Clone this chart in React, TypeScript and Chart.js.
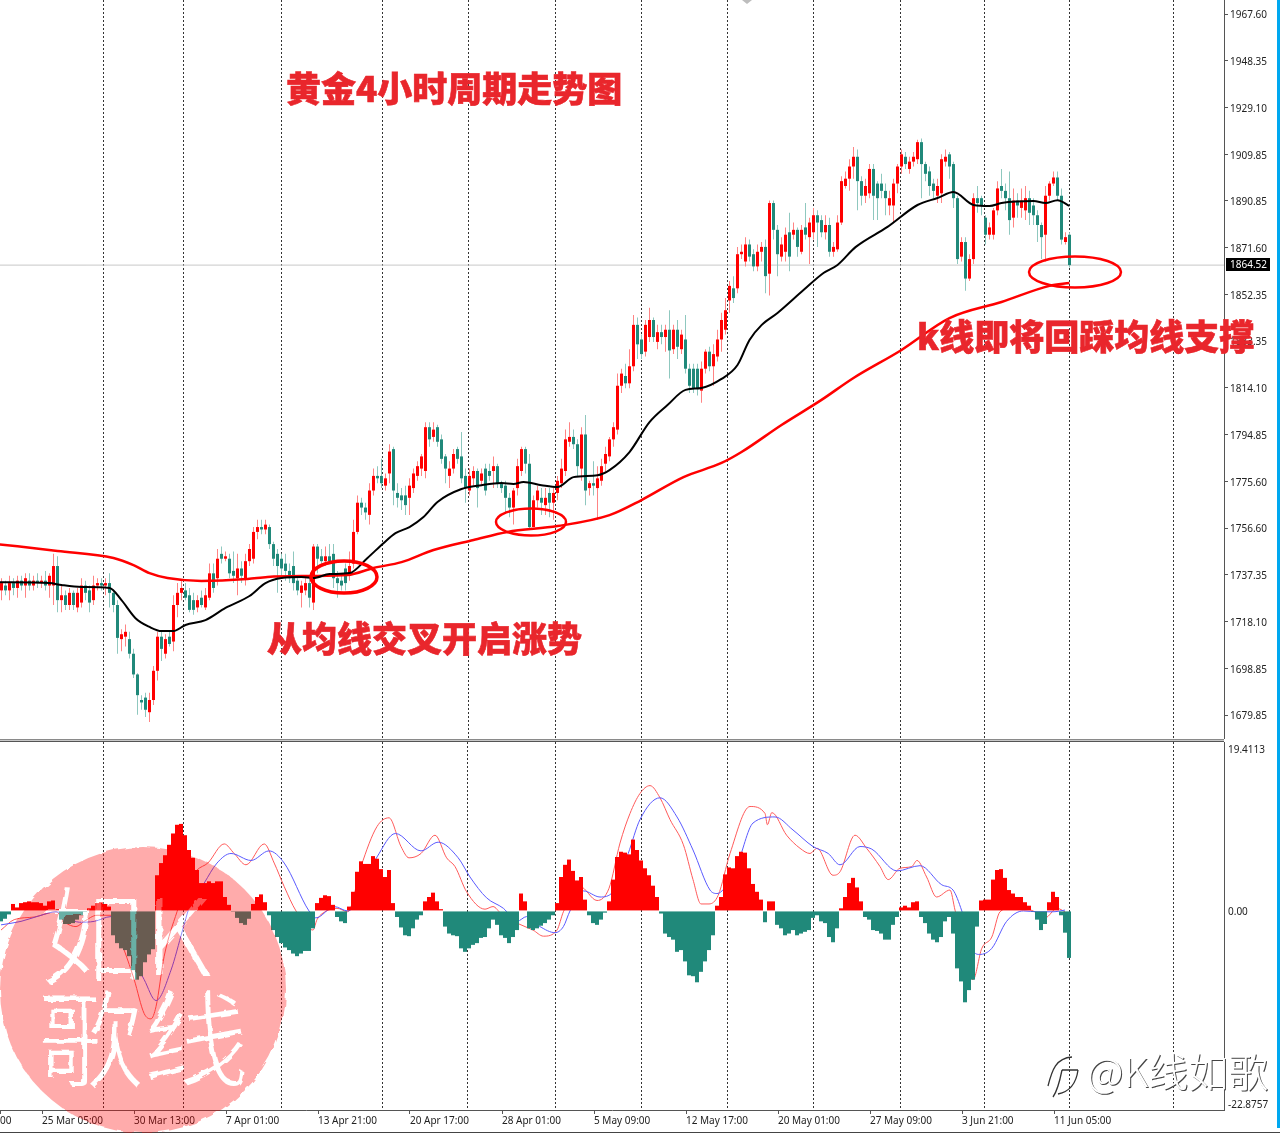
import React, { useEffect, useRef } from "react";
import { Chart, registerables } from "chart.js";

Chart.register(...registerables);
Chart.defaults.font.family = "'Noto Sans', sans-serif";
Chart.defaults.font.size = 10;

const opens = [
  1731,1733,1731,1734,1732,1735,1733,1735,1733,1735,
  1734,1735,1733,1733,1741,1727,1729,1725,1730,1724,
  1726,1733,1731,1727,1733,1734,1733,1734,1730,1725,
  1711,1712,1711,1705,1696.5,1686,1687,1681,1686,1698,
  1712,1705,1712,1710,1725,1730,1731,1729,1727,1724,
  1728,1724,1728,1738,1736,1746,1744,1744,1739,1736,
  1740,1736,1743,1744,1755,1757,1756,1757,1750,1746,
  1744,1742,1739,1741,1735,1730,1731,1734,1726,1749,
  1745,1743,1745,1746,1736,1735,1740,1737,1742,1755,
  1767,1765,1762,1772,1778,1778,1774,1779,1789,1771,
  1770,1770,1769,1773,1778,1781,1780,1798,1794,1798,
  1793,1786,1778,1781,1789,1786,1778,1772,1777,1780,
  1776,1781,1780,1780,1782,1775,1774,1769,1765,1773,
  1780,1789,1783,1757,1768,1769,1766,1771,1767,1771,
  1775,1780,1792,1794,1791,1781,1795,1773,1775,1773,
  1776,1783,1786,1793,1797,1815,1819,1816,1823,1840,
  1834,1829,1835,1842,1833,1837,1835,1838,1830,1838,
  1830,1834,1822,1822,1822,1813,1822,1829,1823,1827,
  1834,1838,1850,1855,1855,1869,1866,1873,1869,1864,
  1870,1872,1861,1890,1879,1868,1870,1878,1877,1879,
  1870,1880,1876,1878,1885,1883,1878,1881,1870,1871,
  1882,1897,1900,1905,1909,1899,1893,1894,1904,1898,
  1898,1895,1889,1889,1898,1905,1909,1904,1907,1908,
  1915,1906,1903,1898,1893,1894,1907,1910,1906,1892,
  1868,1874,1859,1867,1892,1892,1884,1877,1877,1887,
  1897,1895,1892,1884,1891,1888,1887,1892,1889,1885,
  1881,1877,1893,1898,1900.5,1893,1874,1877,
];

const closes = [
  1734,1731,1734,1732,1735,1733,1736,1733,1735,1734,
  1735,1733,1737,1741,1727,1729,1725,1730,1725,1730,
  1733,1730,1726,1733,1734,1733,1734,1730,1725,1711.5,
  1713,1714,1705,1696.5,1688,1685,1682,1686,1698,1712,
  1707,1711,1709,1725,1730,1732,1728,1723,1723,1727,
  1725,1729,1738,1732,1744,1744,1745,1738,1737,1740,
  1737,1743,1748,1755,1757,1756,1758,1750,1744,1741,
  1740,1739,1736,1734,1731,1733,1734,1728,1749,1744,
  1743,1745,1743,1736,1734,1733,1734,1741,1755,1767,
  1765,1763,1772,1778,1777,1775,1777,1788,1772,1769,
  1768,1766,1774,1779,1782,1786,1798,1793,1797,1792,
  1785,1781,1781,1787,1785,1777,1773,1778,1780,1773,
  1779,1772,1778,1782,1775,1773,1769,1765,1772,1782,
  1789,1783,1757,1768,1772,1767,1769,1767,1771,1776,
  1781,1793,1794,1791,1782,1795,1772,1775,1774,1777,
  1782,1787,1793,1798,1815,1820,1816,1823,1840,1832,
  1828,1840,1842,1835,1837,1835,1838,1829.5,1838,1831,
  1836,1822,1815,1814,1814,1822,1829,1823,1828,1834,
  1842,1846,1856,1851,1869,1870,1873,1868,1864,1870,
  1872,1860,1890,1879,1869,1873,1877,1868,1879,1872,
  1879,1877,1882,1885,1882,1878,1881,1870,1872,1882,
  1899,1900,1905,1909,1899,1893,1897,1904,1893,1892,
  1895,1892,1892,1898,1905,1910,1906,1907,1909,1915,
  1906,1902,1897,1895,1897,1908,1909,1905,1892,1867,
  1874,1859,1867,1892,1890,1889,1877,1880,1887,1896,
  1895,1892,1883,1891,1889,1891,1892,1886,1885,1881,
  1876,1893,1898,1900.5,1893,1875,1876,1864.52,
];

const highs = [
  1736,1735,1737,1736,1737,1737,1738,1738,1737,1738,
  1737,1739,1738,1746,1745,1733,1731,1732,1731,1732,
  1736,1735,1733,1737,1736,1736,1736,1738,1731,1727,
  1715,1717,1714,1707,1697,1688,1689,1689,1700,1714,
  1714,1713,1714,1729,1734,1735,1734,1732,1730,1729,
  1731,1732,1742,1742,1748,1749,1747,1746,1747,1746,
  1743,1746,1750,1757,1760,1760,1760,1758,1751,1748,
  1746,1746,1742,1747,1736,1735,1736,1736,1750,1750,
  1748,1749,1750,1750,1739,1738,1742,1747,1760,1770,
  1769,1767,1775,1781,1782,1785,1779,1791,1790,1775,
  1773,1774,1777,1781,1784,1787,1800,1800,1800,1799,
  1795,1787,1784,1789,1790,1796,1781,1781,1782,1781,
  1781,1783,1783,1786,1783,1776,1776,1771,1773,1785,
  1790,1790,1787,1770,1774,1773,1773,1773,1773,1778,
  1785,1797,1800,1797,1793,1798,1803,1776,1784,1782,
  1785,1790,1794,1800,1820,1822,1824,1830,1844,1843,
  1836,1842,1847,1843,1840,1840,1840,1846,1840,1842,
  1838,1844,1824,1824,1824,1825,1830,1831,1832,1838,
  1845,1851,1858,1860,1872,1873,1876,1875,1871,1873,
  1874,1875,1891,1891,1881,1876,1880,1886,1882,1880,
  1881,1890,1884,1888,1887,1885,1885,1884,1874,1885,
  1901,1903,1908,1913,1912,1901,1900,1906,1906,1899,
  1902,1898,1895,1900,1906,1912,1911,1909,1911,1916,
  1916.5,1907,1905,1900,1900,1910,1912,1911,1907,1893,
  1876,1876,1869,1894,1897,1893,1885,1882,1888,1899,
  1904,1898,1903,1896,1894,1896,1897,1895,1892,1887,
  1882,1897,1899,1903,1903,1896,1878,1878,
];

const lows = [
  1727,1729,1727,1729,1728,1731,1728,1731,1731,1732,
  1732,1731,1728,1725,1722,1722,1723,1723,1723,1722,
  1724,1727,1722,1725,1731,1731,1729,1724,1722,1705,
  1706,1708,1703,1695,1680,1682,1679,1677,1684,1694,
  1702,1703,1708,1706,1720,1727,1727,1722,1721,1722,
  1724,1723,1727,1730,1733,1742,1743,1736,1734,1729,
  1734,1733,1741,1742,1752,1754,1754,1748,1741,1730,
  1737,1735,1734,1731,1729,1724,1729,1724,1723,1738,
  1741,1741,1742,1732,1728,1731,1731,1735,1740,1754,
  1762,1760,1758,1770,1775,1773,1772,1775,1766,1765,
  1764,1762,1762,1771,1776,1778,1777,1790,1792,1790,
  1783,1775,1773,1779,1783,1775,1767,1770,1774,1765,
  1774,1770,1776,1773,1773,1771,1763,1761,1758,1770,
  1778,1779,1756,1757,1765,1762,1762,1761,1760,1768,
  1773,1778,1790,1789,1778,1776,1766,1770,1770,1760,
  1774,1779,1784,1790,1795,1812,1814,1814,1821,1826,
  1826,1827,1833,1833,1830,1832,1829,1818,1828,1826,
  1828,1820,1812,1812,1811,1808,1820,1821,1815,1825,
  1829,1836,1845,1849,1853,1867,1864,1866,1862,1862,
  1866,1853,1852,1875,1860,1866,1866,1862,1875,1868,
  1869,1875,1865,1875,1872,1876,1875,1868,1868,1870,
  1881,1896,1895,1900,1887,1889,1890,1892,1883,1883,
  1892,1885,1885,1882,1894,1902,1904,1902,1905,1906,
  1892,1899,1893,1892,1890,1890,1905,1900,1888,1865,
  1866,1854,1858,1865,1886,1885,1873,1875,1875,1885,
  1892,1887,1877,1880,1884,1884,1883,1881,1881,1874,
  1867,1866,1891,1897,1891,1873,1873,1863.5,
];

const blackMaBars = [-1,12,15,20,27,30,33.5,37,40,43,46,51,56,62,66,70,75,78,82,87,91.5,95.5,98.5,102,105.5,109,115,120,125,128,130.5,135,139,143,149,152,157,162,166.5,171,175,180,184,187,190,194,200.5,205.5,209,213.5,221.5,229,234,238,243,247,250,258,261,264,267];
const blackMaValues = [1734.4,1734.0,1733.2,1732.4,1732.0,1727.0,1719.6,1716.0,1714.3,1714.3,1716.8,1718.8,1723.8,1728.7,1734.0,1736.1,1736.5,1736.1,1737.7,1738.1,1744.3,1750.4,1754.5,1757.0,1761.1,1767.3,1772.6,1774.2,1775.1,1774.7,1775.5,1774.2,1773.4,1777.5,1778.3,1780.4,1787.8,1800.1,1807.1,1813.3,1814.1,1817.8,1823.5,1833.8,1839.9,1844.9,1854.3,1861.3,1864.6,1871.9,1880.2,1889.2,1892.1,1894.5,1889.2,1888.8,1890.0,1890.8,1890.0,1891.2,1888.8];

const redMaBars = [-1,14,28,33,37,41.5,50,61.5,66.5,77,86.5,93,100,108,118,126.5,139,152,160,170.5,180,185,195,205,213,225,237,250,262,267];
const redMaValues = [1750.0,1747.2,1744.3,1741.4,1738.1,1736.1,1734.9,1735.7,1736.5,1736.9,1737.3,1740.2,1742.6,1747.6,1751.7,1755.0,1757.4,1761.9,1768.1,1777.5,1783.3,1787.8,1798.9,1809.2,1818.2,1829.7,1842.8,1849.4,1856.0,1857.2];

const histogram = [
  -1.2,-0.9,-0.4,0.8,0.4,0.9,1.0,1.1,1.0,1.0,
  0.9,0.6,1.1,1.2,0.2,-1.0,-1.5,-1.5,-1.4,-1.0,
  -0.5,-0.1,0.3,0.6,0.9,1.0,0.8,0.5,-2.8,-3.7,
  -4.3,-4.5,-5.2,-6.8,-7.9,-7.5,-5.9,-5.0,-4.4,4.1,
  5.5,6.4,7.6,8.9,9.9,10.0,8.7,7.0,6.1,4.7,
  3.2,3.2,3.4,3.2,3.4,3.4,1.6,0.7,-0.1,-0.8,
  -1.4,-1.6,-0.9,0.8,1.6,1.9,1.0,-0.5,-2.2,-3.0,
  -3.7,-4.2,-4.5,-4.9,-5.2,-4.9,-4.6,-4.6,-2.0,0.9,
  1.5,1.8,1.7,0.7,-0.7,-1.2,-1.4,0.5,2.2,4.5,
  5.7,5.4,5.4,6.3,6.0,4.8,3.9,4.7,0.9,-0.7,
  -1.9,-2.8,-2.9,-2.0,-1.0,-0.5,1.1,1.6,2.1,1.1,
  0.2,-1.8,-2.6,-2.8,-2.9,-4.3,-4.7,-4.3,-3.9,-3.7,
  -3.1,-3.0,-2.0,-1.0,-1.6,-2.8,-3.1,-3.7,-3.0,-2.2,
  2.0,1.1,-2.0,-2.2,-2.0,-1.7,-1.4,-1.0,-0.5,0.9,
  3.9,5.3,5.9,4.6,3.5,3.9,1.3,-0.5,-1.4,-1.6,
  -1.0,-0.2,1.1,3.6,6.2,6.8,6.7,6.5,8.2,7.0,
  5.8,4.9,4.1,2.9,1.6,-0.3,-2.6,-3.0,-3.3,-4.7,
  -4.5,-5.8,-7.4,-7.5,-8.2,-7.0,-5.8,-4.5,-2.8,0.6,
  1.6,4.2,5.0,4.9,6.3,6.8,6.7,4.9,3.1,2.2,
  1.3,-1.3,1.1,1.1,-1.6,-2.0,-2.8,-2.6,-2.2,-2.8,
  -2.6,-2.4,-2.2,-0.8,-0.5,-1.2,-1.4,-3.0,-3.6,-2.0,
  0.3,1.6,3.2,3.8,2.7,1.1,-0.7,-1.0,-2.2,-2.3,
  -2.6,-3.3,-3.3,-1.6,-0.7,0.4,0.6,0.4,1.0,1.1,
  -0.7,-1.4,-2.6,-3.3,-3.6,-3.0,-1.2,-0.7,-2.6,-6.6,
  -8.1,-10.5,-9.1,-7.9,-1.8,1.2,1.3,1.3,3.6,4.7,
  4.8,3.8,2.4,2.0,1.6,1.6,1.0,0.6,-0.1,-1.0,
  -2.2,-1.5,1.0,2.2,1.6,-0.5,-2.5,-5.4,
];

const macdBars = [0,3.3,8.3,13.75,16,18.75,20.8,24,27.5,30.8,33.3,35.8,37.5,38.75,40.8,44,46.7,49,51.7,55.8,58.3,61.25,65.8,68.3,70.8,73.75,78,79,81,84,86.7,90,94,97,100,102,105,108.5,111.4,113.5,116.4,121,123,125,129,133,135.6,139,140.6,144.75,149,152,154.75,157.25,159.75,162.25,164.75,167.25,170.6,173,175,177,179.3,182.25,187.25,191,191.6,192.7,196.4,199.75,202.25,204,208,209.75,213.5,216.4,219.75,221.8,224.75,227.7,229,231.4,233.9,237.25,238.5,243,245.2,247.7,249.75,254,258,261,264,266];
const macdValues = [-2.2,-1.0,-0.7,-0.1,-1.3,-1.8,-1.2,-0.5,-0.5,-4.5,-7.9,-11.8,-12.4,-11.0,-5.2,-0.1,3.2,4.7,5.5,7.7,6.6,5.3,7.7,5.5,2.8,0,-2.2,-1.0,-0.1,0.3,-0.1,5.1,9.7,10.7,7.4,6.1,6.6,8.7,6.1,5.1,2.2,0.2,0.5,-0.3,-1.4,-2.2,-2.9,-2.2,-0.1,2.8,1.2,2.6,7.8,11.2,13.5,14.4,13.0,10.5,7.6,3.6,0.8,0.8,1.8,6.6,12.0,11.2,9.9,11.3,8.7,7.2,6.6,7.2,4.1,4.5,8.7,7.2,5.1,3.6,4.9,5.1,5.8,3.9,1.6,2.4,0.1,-7.9,-4.3,-3.0,-0.1,0.5,0,-0.8,0.3,-0.1];

const signalBars = [0,5,10,13.75,19.6,23.3,27.5,32,35.8,38.75,42.5,45.4,47,50.8,54,57.5,62.5,67,70.8,77,78.75,83.3,86.7,94,98.6,105,109.3,114.3,117.25,121.4,125.6,129,131.4,134.75,138.5,140.6,142.25,145.6,149.75,153,156.8,159.75,164.75,169,173,177.25,179,184,188,193.5,198,203,206.8,209.75,214.75,217.7,224,229.75,235.2,238,240.2,243,244.6,247.7,251.4,255.6,259,263,266];
const signalValues = [-1.6,-1.2,-0.5,-0.1,-1.3,-1.2,-0.65,-4.5,-7.9,-10.3,-6.8,-2.2,0.3,3.2,5.5,6.6,5.8,6.9,5.5,0,-0.8,0.5,0,6.2,8.9,6.9,7.9,6.1,3.9,1.5,0.3,-1.2,-0.65,-1.8,-2.5,-1.8,0,2.3,1.6,2.2,6.6,10.5,13.0,10.8,7.0,2.4,2.0,5.3,10.1,10.8,9.3,7.4,6.6,5.3,7.4,7.1,4.6,5.2,3.0,2.4,0,-4.5,-5.0,-4.3,-1.2,0,-0.1,-0.1,0.1];

const priceTicks = [1967.6,1948.35,1929.1,1909.85,1890.85,1871.6,1852.35,1833.35,1814.1,1794.85,1775.6,1756.6,1737.35,1718.1,1698.85,1679.85];
const lastPrice = 1864.52;
const macdTickPlaces = [18.6, 0, -22.2];
const macdTickLabels = ["19.4113", "0.00", "-22.8757"];
const timeTickBars = [-0.25,10.25,33.25,56.25,79.25,102.25,125.25,148.25,171.25,194.25,217.25,240.25,263.25];
const timeTickLabels = ["00","25 Mar 05:00","30 Mar 13:00","7 Apr 01:00","13 Apr 21:00","20 Apr 17:00","28 Apr 01:00","5 May 09:00","12 May 17:00","20 May 01:00","27 May 09:00","3 Jun 21:00","11 Jun 05:00"];
const periodSeparators = [25.5,45.5,70,95.25,116.75,138.5,160,181.5,203,224.75,245.75,267,293];

const RED = "#ff0000";
const TEAL = "#20897a";
const PALE_RED = "#ff8484";
const PALE_TEAL = "#8fc8bf";
const AXIS = "#555555";
const ANNOTATION = "#e9262c";
const CJK = "'Noto Sans CJK SC', sans-serif";

const separatorPlugin = {
  id: "separators",
  beforeDatasetsDraw(chart: any) {
    const { ctx, chartArea, scales } = chart;
    ctx.save();
    ctx.strokeStyle = "#333333";
    ctx.lineWidth = 1;
    ctx.setLineDash([2, 2]);
    for (const bar of periodSeparators) {
      const px = Math.floor(scales.x.getPixelForValue(bar)) + 0.5;
      ctx.beginPath();
      ctx.moveTo(px, chartArea.top);
      ctx.lineTo(px, chartArea.bottom);
      ctx.stroke();
    }
    ctx.restore();
  },
};

const lastPricePlugin = {
  id: "lastPrice",
  afterDraw(chart: any) {
    const { ctx, scales } = chart;
    const y = scales.y.getPixelForValue(lastPrice);
    ctx.save();
    ctx.fillStyle = "#000000";
    ctx.fillRect(1226, Math.round(y) - 7, 44, 13);
    ctx.fillStyle = "#ffffff";
    ctx.font = "10px 'Noto Sans', sans-serif";
    ctx.textAlign = "left";
    ctx.textBaseline = "middle";
    ctx.fillText(lastPrice.toFixed(2), 1230, Math.round(y));
    ctx.restore();
  },
};

const fixY = (s: any) => {
  s.width = 56;
  s.paddingTop = 0;
  s.paddingBottom = 0;
};
const fixX = (s: any) => {
  s.height = 23;
  s.paddingLeft = 0;
  s.paddingRight = 0;
};

const points = (bars: number[], values: number[]) => bars.map((x, i) => ({ x, y: values[i] }));

const isUp = (i: number) => closes[i] >= opens[i];

const basePlugins = { legend: { display: false }, tooltip: { enabled: false } };

export default function App() {
  const priceRef = useRef<HTMLCanvasElement | null>(null);
  const macdRef = useRef<HTMLCanvasElement | null>(null);

  useEffect(() => {
    const priceChart = new Chart(priceRef.current as any, {
      type: "bar",
      data: {
        datasets: [
          {
            type: "line",
            data: [{ x: -0.375, y: lastPrice }, { x: 305.625, y: lastPrice }],
            borderColor: "#c8c8c8",
            borderWidth: 1,
            pointRadius: 0,
            order: 5,
          },
          {
            data: opens.map((_, i) => ({ x: i, y: [lows[i], highs[i]] })),
            backgroundColor: opens.map((_, i) => (isUp(i) ? PALE_RED : PALE_TEAL)),
            barThickness: 1,
            inflateAmount: 0,
            grouped: false,
            order: 3,
          },
          {
            data: opens.map((o, i) => ({ x: i, y: [o, closes[i]] })),
            backgroundColor: opens.map((_, i) => (isUp(i) ? RED : TEAL)),
            barThickness: 3,
            inflateAmount: 0,
            grouped: false,
            order: 2,
          },
          {
            type: "line",
            data: points(redMaBars, redMaValues),
            borderColor: RED,
            borderWidth: 2.5,
            pointRadius: 0,
            cubicInterpolationMode: "monotone",
            order: 1,
          },
          {
            type: "line",
            data: points(blackMaBars, blackMaValues),
            borderColor: "#000000",
            borderWidth: 2,
            pointRadius: 0,
            cubicInterpolationMode: "monotone",
            order: 0,
          },
        ],
      } as any,
      options: {
        responsive: false,
        animation: false,
        events: [],
        plugins: basePlugins,
        layout: { padding: 0 },
        scales: {
          x: {
            type: "linear",
            display: false,
            offset: false,
            min: -0.375,
            max: 305.625,
            grid: { offset: false },
          },
          y: {
            type: "linear",
            position: "right",
            min: 1670,
            max: 1973.35,
            afterFit: fixY,
            afterBuildTicks: (s: any) => {
              s.ticks = priceTicks.map((value) => ({ value }));
            },
            border: { color: AXIS, width: 1 },
            grid: { drawOnChartArea: false, color: AXIS, tickLength: 4 },
            ticks: {
              autoSkip: false,
              padding: 2,
              labelOffset: 1,
              color: "#222222",
              callback: (v: any) => Number(v).toFixed(2),
            },
          },
        },
      } as any,
      plugins: [separatorPlugin, lastPricePlugin],
    });

    const macdChart = new Chart(macdRef.current as any, {
      type: "bar",
      data: {
        datasets: [
          {
            type: "line",
            data: points(macdBars, macdValues),
            borderColor: "#ff5a5a",
            borderWidth: 1,
            pointRadius: 0,
            cubicInterpolationMode: "monotone",
            order: 2,
          },
          {
            type: "line",
            data: points(signalBars, signalValues),
            borderColor: "#5a5aff",
            borderWidth: 1,
            pointRadius: 0,
            cubicInterpolationMode: "monotone",
            order: 1,
          },
          {
            data: histogram.map((y, x) => ({ x, y })),
            backgroundColor: histogram.map((v) => (v >= 0 ? RED : TEAL)),
            barThickness: 4,
            inflateAmount: 0,
            grouped: false,
            order: 0,
          },
        ],
      } as any,
      options: {
        responsive: false,
        animation: false,
        events: [],
        plugins: basePlugins,
        layout: { padding: 0 },
        scales: {
          x: {
            type: "linear",
            position: "bottom",
            offset: false,
            min: -0.25,
            max: 305.75,
            afterFit: fixX,
            afterBuildTicks: (s: any) => {
              s.ticks = timeTickBars.map((value) => ({ value }));
            },
            border: { color: AXIS, width: 1 },
            grid: { offset: false, drawOnChartArea: false, color: AXIS, tickLength: 4 },
            ticks: {
              autoSkip: false,
              maxRotation: 0,
              minRotation: 0,
              align: "start",
              padding: 1,
              color: "#222222",
              callback: (_: any, i: number) => timeTickLabels[i],
            },
          },
          y: {
            type: "linear",
            position: "right",
            min: -22.8757,
            max: 19.4113,
            afterFit: fixY,
            afterBuildTicks: (s: any) => {
              s.ticks = macdTickPlaces.map((value) => ({ value }));
            },
            border: { color: AXIS, width: 1 },
            grid: { drawOnChartArea: false, drawTicks: false, tickLength: 4 },
            ticks: {
              autoSkip: false,
              padding: 4,
              labelOffset: 1,
              color: "#222222",
              callback: (_: any, i: number) => macdTickLabels[i],
            },
          },
        },
      } as any,
      plugins: [separatorPlugin],
    });

    return () => {
      priceChart.destroy();
      macdChart.destroy();
    };
  }, []);

  const heavy = { fontFamily: CJK, fontWeight: 900, fontSize: 35, fill: ANNOTATION, stroke: ANNOTATION, strokeWidth: 0.6 } as const;
  const stamp = { fontFamily: CJK, fontWeight: 300, fontSize: 105, fill: "#ffffff" } as const;
  const mark = { fontFamily: CJK, fontWeight: 300, fontSize: 40, fill: "#ffffff", style: { filter: "drop-shadow(1px 1px 0.6px #444)" } } as const;

  return (
    <div style={{ position: "fixed", left: 0, top: 0, width: 1280, height: 1133, background: "#ffffff", overflow: "hidden" }}>
      <canvas ref={priceRef} width={1280} height={739} style={{ position: "absolute", left: 0, top: 0, display: "block" }} />
      <div style={{ position: "absolute", left: 0, top: 739, width: 1224, height: 1, background: "#8a8a8a" }} />
      <div style={{ position: "absolute", left: 0, top: 740, width: 1224, height: 1, background: "#c8c8c8" }} />
      <div style={{ position: "absolute", left: 0, top: 741, width: 1224, height: 1, background: "#555555" }} />
      <canvas ref={macdRef} width={1280} height={391} style={{ position: "absolute", left: 0, top: 742, display: "block" }} />
      <div style={{ position: "absolute", left: 1277, top: 0, width: 3, height: 1128, background: "#00a8f0" }} />
      <div style={{ position: "absolute", left: 0, top: 1132, width: 1280, height: 1, background: "#444444" }} />
      <svg width={1280} height={1133} style={{ position: "absolute", left: 0, top: 0, pointerEvents: "none" }}>
        <defs>
          <filter id="rough" x="-5%" y="-5%" width="110%" height="110%">
            <feTurbulence type="fractalNoise" baseFrequency="0.09" numOctaves={2} seed={3} />
            <feDisplacementMap in="SourceGraphic" scale={5} />
          </filter>
        </defs>
        <polygon points="742,0 752,0 747,4" fill="#bdbdbd" />
        <g fill="none" stroke={RED}>
          <ellipse cx={344} cy={577} rx={33} ry={16} strokeWidth={3.5} />
          <ellipse cx={531} cy={522} rx={35} ry={13.5} strokeWidth={2.5} />
          <ellipse cx={1075} cy={272} rx={46} ry={15.5} strokeWidth={2.5} />
        </g>
        <text x={286} y={102} {...heavy}>黄金4小时周期走势图</text>
        <text x={267} y={652} {...heavy}>从均线交叉开启涨势</text>
        <text x={917} y={350} {...heavy}>k线即将回踩均线支撑</text>
        <g opacity={0.33} filter="url(#rough)">
          <circle cx={143} cy={990} r={143} fill="#ff0000" />
          <text x={40} y={975} {...stamp}>如K</text>
          <text x={38} y={1078} {...stamp}>歌线</text>
        </g>
        <path
          d="M1048 1086 C1052 1070 1056 1058 1072 1057 M1062 1070 H1078 M1062 1070 C1060 1080 1058 1090 1053 1097 M1078 1070 C1076 1085 1068 1092 1058 1094"
          fill="none"
          stroke="#333333"
          strokeWidth={1.3}
        />
        <text x={1087} y={1087} {...mark}>@K线如歌</text>
      </svg>
    </div>
  );
}
